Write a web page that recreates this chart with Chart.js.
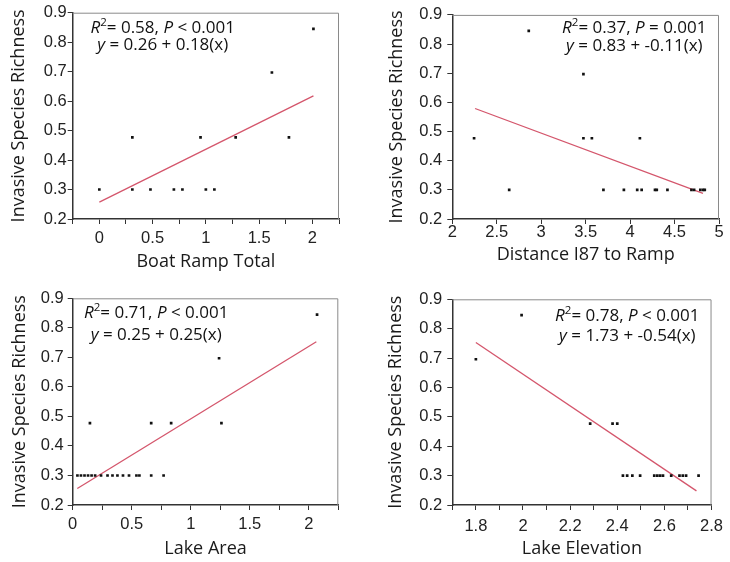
<!DOCTYPE html>
<html lang="en">
<head>
<meta charset="UTF-8">
<title>Invasive species richness</title>
<style>
  body { margin: 0; background: #fff; }
  #wrap { position: relative; width: 730px; height: 562px; }
  #wrap canvas { position: absolute; }
</style>
</head>
<body>
<div id="wrap">
  <canvas id="c1" width="365" height="281" style="left:0;top:0"></canvas>
  <canvas id="c2" width="365" height="281" style="left:365px;top:0"></canvas>
  <canvas id="c3" width="365" height="281" style="left:0;top:281px"></canvas>
  <canvas id="c4" width="365" height="281" style="left:365px;top:281px"></canvas>
</div>

<script src="https://cdn.jsdelivr.net/npm/chart.js@4.4.1/dist/chart.umd.min.js"></script>
<script>
// --- data ---
const yTitle = 'Invasive Species Richness';
const xTitles = ['Boat Ramp Total', 'Distance I87 to Ramp', 'Lake Area', 'Lake Elevation'];

const boatX = [0, 0.31, 0.31, 0.48, 0.70, 0.78, 0.95, 1.00, 1.08, 1.28, 1.62, 1.78, 2.01];
const boatY = [0.30, 0.477, 0.30, 0.30, 0.30, 0.30, 0.477, 0.30, 0.30, 0.477, 0.697, 0.477, 0.845];
const fit1X = [0, 2.01];
const fit1Y = [0.257, 0.618];

const distX = [2.245, 2.64, 2.86, 3.475, 3.475, 3.57, 3.70, 3.93, 4.08, 4.11, 4.13, 4.28, 4.30, 4.42, 4.69, 4.72, 4.79, 4.82, 4.84];
const distY = [0.477, 0.30, 0.845, 0.697, 0.477, 0.477, 0.30, 0.30, 0.30, 0.477, 0.30, 0.30, 0.30, 0.30, 0.30, 0.30, 0.30, 0.30, 0.30];
const fit2X = [2.256, 4.82];
const fit2Y = [0.579, 0.288];

const areaX = [0.04, 0.07, 0.10, 0.13, 0.16, 0.19, 0.24, 0.295, 0.337, 0.379, 0.426, 0.477, 0.54, 0.565, 0.665, 0.77,
               0.146, 0.665, 0.834, 1.26, 1.24, 2.07];
const areaY = [0.30, 0.30, 0.30, 0.30, 0.30, 0.30, 0.30, 0.30, 0.30, 0.30, 0.30, 0.30, 0.30, 0.30, 0.30, 0.30,
               0.477, 0.477, 0.477, 0.477, 0.697, 0.845];
const fit3X = [0.039, 2.064];
const fit3Y = [0.256, 0.753];

const elevX = [1.80, 1.994, 2.285, 2.38, 2.40, 2.424, 2.442, 2.464, 2.497, 2.557, 2.57, 2.582, 2.594, 2.629, 2.664, 2.678, 2.692, 2.745];
const elevY = [0.696, 0.846, 0.477, 0.477, 0.477, 0.30, 0.30, 0.30, 0.30, 0.30, 0.30, 0.30, 0.30, 0.30, 0.30, 0.30, 0.30, 0.30];
const fit4X = [1.80, 2.736];
const fit4Y = [0.753, 0.248];

const statR2 = ['0.58', '0.37', '0.71', '0.78'];
const statP = ['< 0.001', '= 0.001', '< 0.001', '< 0.001'];
const eqA = ['0.26', '0.83', '0.25', '1.73'];
const eqB = ['0.18', '-0.11', '0.25', '-0.54'];

// --- per panel layout ---
const panels = [
  { id: 'c1', xs: boatX, ys: boatY, fx: fit1X, fy: fit1Y, xmin: -0.25, xmax: 2.25, step: 0.25, major: 0.5,
    box: { l: 72.7, t: 12.7, r: 339, b: 219 }, yPad: 8, xPad: 8, tickPadX: 5, tickPadY: 1,
    textX: 90, line1: 20, line2: 37.5 },
  { id: 'c2', xs: distX, ys: distY, fx: fit2X, fy: fit2Y, xmin: 2, xmax: 5, step: 0.5, major: 0.5,
    box: { l: 87.3, t: 13.3, r: 354, b: 219 }, yPad: 21, xPad: 15, tickPadX: -1, tickPadY: 5,
    textX: 182, line1: 18, line2: 36 },
  { id: 'c3', xs: areaX, ys: areaY, fx: fit3X, fy: fit3Y, xmin: 0, xmax: 2.25, step: 0.25, major: 0.5,
    box: { l: 72.7, t: 17.3, r: 338.3, b: 224 }, yPad: 9, xPad: 2, tickPadX: 5, tickPadY: 4,
    textX: 83.5, line1: 20, line2: 41.7 },
  { id: 'c4', xs: elevX, ys: elevY, fx: fit4X, fy: fit4Y, xmin: 1.7, xmax: 2.8, step: 0.1, major: 0.2,
    box: { l: 87.3, t: 18.3, r: 352.7, b: 224 }, yPad: 20, xPad: 2, tickPadX: 7, tickPadY: 5,
    textX: 175, line1: 21.7, line2: 41.7 }
];

const W = 365, H = 281;
const textFont = '"Open Sans", sans-serif';
const tickFont = { family: '"Liberation Sans", Arial, sans-serif', size: 16.5 };

function isMajor(v, m) {
  const q = v / m;
  return Math.abs(q - Math.round(q)) < 1e-6;
}

// draw text pieces centred on cx; italic / superscript pieces
function drawRich(ctx, parts, cx, base) {
  const size = 17;
  const fontOf = p => (p.it ? 'italic ' : '') + (p.sup ? 11.5 : size) + 'px ' + textFont;
  let total = 0;
  parts.forEach(p => { ctx.font = fontOf(p); total += ctx.measureText(p.t).width; });
  let x = cx - total / 2;
  parts.forEach(p => {
    ctx.font = fontOf(p);
    ctx.fillText(p.t, x, p.sup ? base - 7 : base);
    x += ctx.measureText(p.t).width;
  });
}

panels.forEach((p, i) => {
  const framePlugin = {
    id: 'frame' + i,
    afterDraw(chart) {
      const { ctx, chartArea: a } = chart;
      ctx.save();
      ctx.strokeStyle = '#8a8a8a';
      ctx.lineWidth = 1;
      ctx.beginPath();
      ctx.moveTo(a.left, a.top + 0.5);
      ctx.lineTo(a.right - 0.5, a.top + 0.5);
      ctx.lineTo(a.right - 0.5, a.bottom);
      ctx.stroke();

      ctx.fillStyle = '#111';
      ctx.textBaseline = 'alphabetic';
      const cx = a.left + p.textX;
      drawRich(ctx, [
        { t: 'R', it: true }, { t: '2', sup: true }, { t: '= ' + statR2[i] + ', ' },
        { t: 'P', it: true }, { t: ' ' + statP[i] }
      ], cx, a.top + p.line1);
      drawRich(ctx, [
        { t: 'y', it: true }, { t: ' = ' + eqA[i] + ' + ' + eqB[i] + '(x)' }
      ], cx, a.top + p.line2);
      ctx.restore();
    }
  };

  new Chart(document.getElementById(p.id), {
    type: 'scatter',
    data: {
      datasets: [
        {
          data: p.xs.map((x, k) => ({ x: x, y: p.ys[k] })),
          pointStyle: 'rect',
          pointRadius: 1.9,
          pointBorderWidth: 0,
          pointBackgroundColor: '#111'
        },
        {
          type: 'line',
          data: p.fx.map((x, k) => ({ x: x, y: p.fy[k] })),
          borderColor: '#d4566c',
          borderWidth: 1.3,
          pointRadius: 0,
          fill: false
        }
      ]
    },
    options: {
      responsive: false,
      animation: false,
      events: [],
      layout: { padding: { left: 0, top: p.box.t, right: W - p.box.r, bottom: 0 } },
      plugins: { legend: { display: false }, tooltip: { enabled: false } },
      scales: {
        x: {
          type: 'linear',
          min: p.xmin,
          max: p.xmax,
          afterFit(s) { s.height = H - p.box.b; },
          ticks: {
            stepSize: p.step,
            autoSkip: false,
            maxRotation: 0,
            padding: p.tickPadX,
            color: '#222',
            font: tickFont,
            callback: v => isMajor(v, p.major) ? String(Math.round(v * 100) / 100) : ''
          },
          grid: { drawOnChartArea: false, tickLength: 5, tickColor: '#333' },
          border: { color: '#333', width: 1.5 },
          title: {
            display: true, text: xTitles[i], color: '#1a1a1a',
            font: { family: textFont, size: 18 },
            padding: { top: 0, bottom: p.xPad }
          }
        },
        y: {
          min: 0.2,
          max: 0.9,
          afterFit(s) { s.width = p.box.l; },
          ticks: {
            stepSize: 0.1,
            padding: p.tickPadY,
            color: '#222',
            font: tickFont,
            callback: v => v.toFixed(1)
          },
          grid: { drawOnChartArea: false, tickLength: 5, tickColor: '#333' },
          border: { color: '#333', width: 1.5 },
          title: {
            display: true, text: yTitle, color: '#1a1a1a',
            font: { family: textFont, size: 18 },
            padding: { top: p.yPad, bottom: 0 }
          }
        }
      }
    },
    plugins: [framePlugin]
  });
});
</script>
</body>
</html>
